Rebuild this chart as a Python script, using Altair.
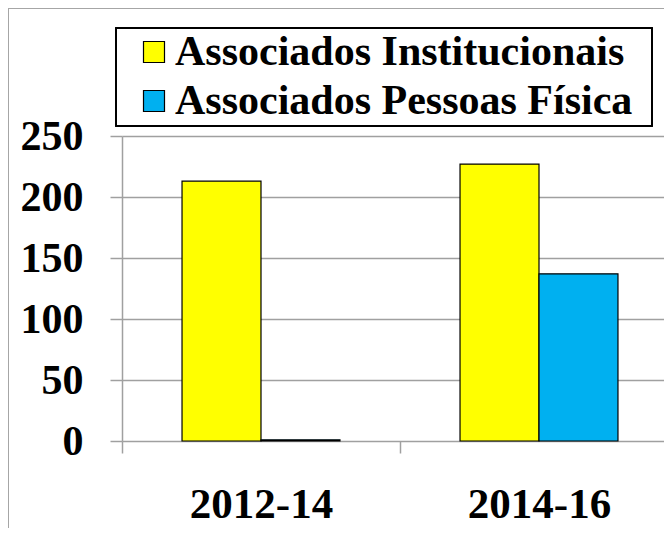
import altair as alt
import pandas as pd

# ---- data ----
periods = ["2012-14", "2014-16"]
series_names = ["Associados Institucionais", "Associados Pessoas Física"]
institucionais = [213, 227]
pessoas_fisica = [1, 137]
series_colors = ["#FFFF00", "#00B0F0"]
y_ticks = [0, 50, 100, 150, 200, 250]

rows = []
for p, a, b in zip(periods, institucionais, pessoas_fisica):
    rows.append({"periodo": p, "serie": series_names[0], "valor": a})
    rows.append({"periodo": p, "serie": series_names[1], "valor": b})
df = pd.DataFrame(rows)

FONT = "Liberation Serif"
GRID = "#A0A0A0"
W, H = 542, 305

bars = alt.Chart(df).mark_bar(stroke="black", strokeWidth=1.2).encode(
    x=alt.X(
        "periodo:N",
        sort=periods,
        scale=alt.Scale(range=[0, 556], paddingInner=0, paddingOuter=0),
        axis=alt.Axis(
            title=None, labelAngle=0, tickBand="extent", tickSize=12,
            tickColor=GRID, tickWidth=1.5, domain=False, grid=False,
            labelFont=FONT, labelFontSize=43, labelFontWeight="bold",
            labelColor="black", labelBaseline="alphabetic", labelPadding=64,
        ),
    ),
    xOffset=alt.XOffset(
        "serie:N", sort=series_names,
        scale=alt.Scale(paddingOuter=0.76, paddingInner=0),
    ),
    y=alt.Y(
        "valor:Q",
        scale=alt.Scale(domain=[0, 250], nice=False),
        axis=alt.Axis(
            title=None, values=y_ticks, tickSize=12, tickColor=GRID,
            tickWidth=1.5, domainColor=GRID, domainWidth=1.5,
            gridColor=GRID, gridWidth=1.5, labelFont=FONT, labelFontSize=42,
            labelFontWeight="bold", labelColor="black", labelPadding=27,
        ),
    ),
    color=alt.Color(
        "serie:N",
        sort=series_names,
        scale=alt.Scale(domain=series_names, range=series_colors),
        legend=alt.Legend(
            title=None, orient="none", legendX=11, legendY=-105, padding=0,
            rowPadding=7, symbolType="square", symbolSize=441,
            symbolStrokeColor="black", symbolStrokeWidth=1.2, labelOffset=0,
            labelFont=FONT, labelFontSize=42, labelFontWeight="bold",
            labelColor="black", labelLimit=1000,
        ),
    ),
)

legend_box = alt.Chart(df).mark_rect(
    fillOpacity=0, stroke="black", strokeWidth=1.5
).encode(
    x=alt.value(-6), x2=alt.value(530), y=alt.value(-108), y2=alt.value(-10)
)

frame_left = alt.Chart(df).mark_rule(color="#A6A6A6", strokeWidth=1).encode(
    x=alt.value(-113.5), y=alt.value(-127.5), y2=alt.value(400)
)
frame_top = alt.Chart(df).mark_rule(color="#A6A6A6", strokeWidth=1).encode(
    x=alt.value(-113.5), x2=alt.value(W), y=alt.value(-127.5)
)

chart = (
    alt.layer(frame_left, frame_top, bars, legend_box)
    .properties(
        width=W,
        height=H,
        autosize=alt.AutoSizeParams(type="none"),
        padding={"left": 114, "top": 128, "right": 0, "bottom": 87},
        background="white",
    )
    .configure_view(strokeWidth=0)
)

chart.save("out.html", embed_options={"renderer": "svg", "actions": False})
